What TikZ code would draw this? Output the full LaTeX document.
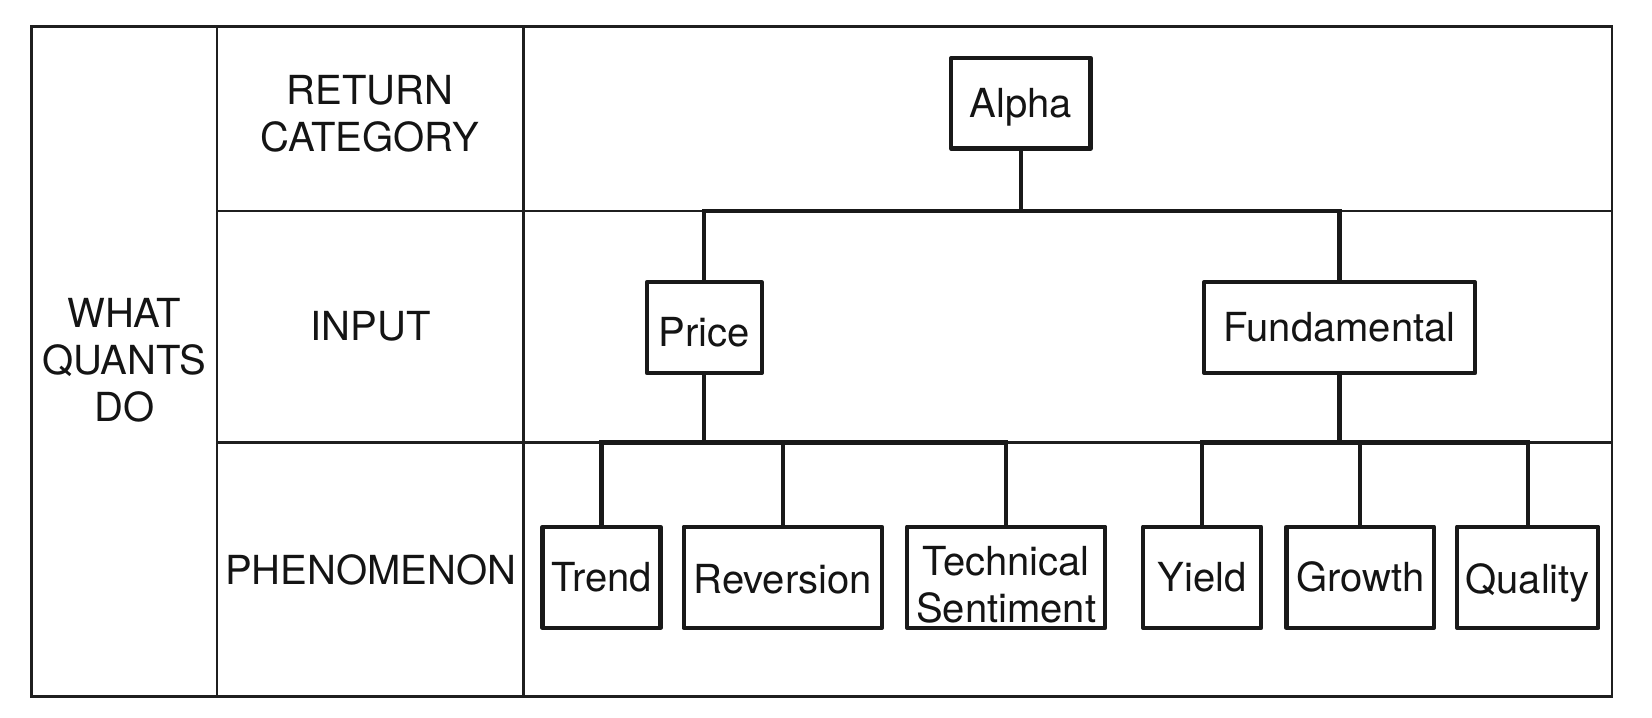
\documentclass[tikz,border=0pt]{standalone}
\usepackage{fontspec}
\setmainfont{TeX Gyre Heros}
\begin{document}
\begin{tikzpicture}[x=0.01cm,y=-0.01cm,
  font=\fontsize{10.8}{12.8}\selectfont,
  grid/.style={line width=0.65pt, draw=black!88},
  box/.style={draw=black!90, line width=1.15pt, inner sep=0pt, align=center, fill=white, line join=round, text=black!92},
  link/.style={draw=black!90, line width=1.15pt},
  lab/.style={align=center, inner sep=0pt, text=black!92}]
\useasboundingbox (0,0) rectangle (1568,681);
% table grid
\draw[grid] (30,25) rectangle (1530,661);
\draw[grid] (206,25) -- (206,661);
\draw[grid] (497,25) -- (497,661);
\draw[grid] (206,200) -- (1530,200);
\draw[grid] (206,420) -- (1530,420);
% row labels
\node[lab] (wqd) at (118,342) {WHAT\\QUANTS\\DO};
\node[lab] (rc) at (351,108) {RETURN\\CATEGORY};
\node[lab] (inp) at (352,310) {INPUT};
\node[lab] (phen) at (352,541) {PHENOMENON};
% tree boxes
\node[box, minimum width=1.32cm, minimum height=0.86cm, text height=10.1pt, text depth=2.3pt] (alpha) at (969,98) {Alpha};
\node[box, minimum width=1.09cm, minimum height=0.86cm, text height=10.6pt, text depth=0.2pt] (price) at (668.5,311) {Price};
\node[box, minimum width=2.57cm, minimum height=0.86cm] (fund) at (1271.5,311) {Fundamental};
\node[box, minimum width=1.12cm, minimum height=0.96cm] (trend) at (571,548) {Trend};
\node[box, minimum width=1.88cm, minimum height=0.96cm, text height=9pt, text depth=0.2pt] (rev) at (743,548) {Reversion};
\node[box, minimum width=1.88cm, minimum height=0.96cm] (tech) at (955,548) {\raisebox{0pt}[\height][0pt]{}\\[-12.8pt]\rule{0pt}{2.8pt}\\[-1pt]Technical\\Sentiment};
\node[box, minimum width=1.12cm, minimum height=0.96cm] (yield) at (1141,548) {Yield};
\node[box, minimum width=1.40cm, minimum height=0.96cm] (growth) at (1291,548) {Growth};
\node[box, minimum width=1.34cm, minimum height=0.96cm, text height=10.8pt, text depth=2.3pt] (quality) at (1450,548) {Quality};
% connectors
\coordinate (ja) at (969,200);
\coordinate (jp) at (668,420);
\coordinate (jf) at (1272,420);
\draw[link] (alpha.south) -- (alpha.south |- ja);
\draw[link] (price.north) |- (ja) -| (fund.north);
\draw[link] (price.south) -- (price.south |- jp);
\draw[link] (trend.north) |- (jp) -| (tech.north);
\draw[link] (rev.north) -- (rev.north |- jp);
\draw[link] (fund.south) -- (fund.south |- jf);
\draw[link] (yield.north) |- (jf) -| (quality.north);
\draw[link] (growth.north) -- (growth.north |- jf);
\end{tikzpicture}
\end{document}
